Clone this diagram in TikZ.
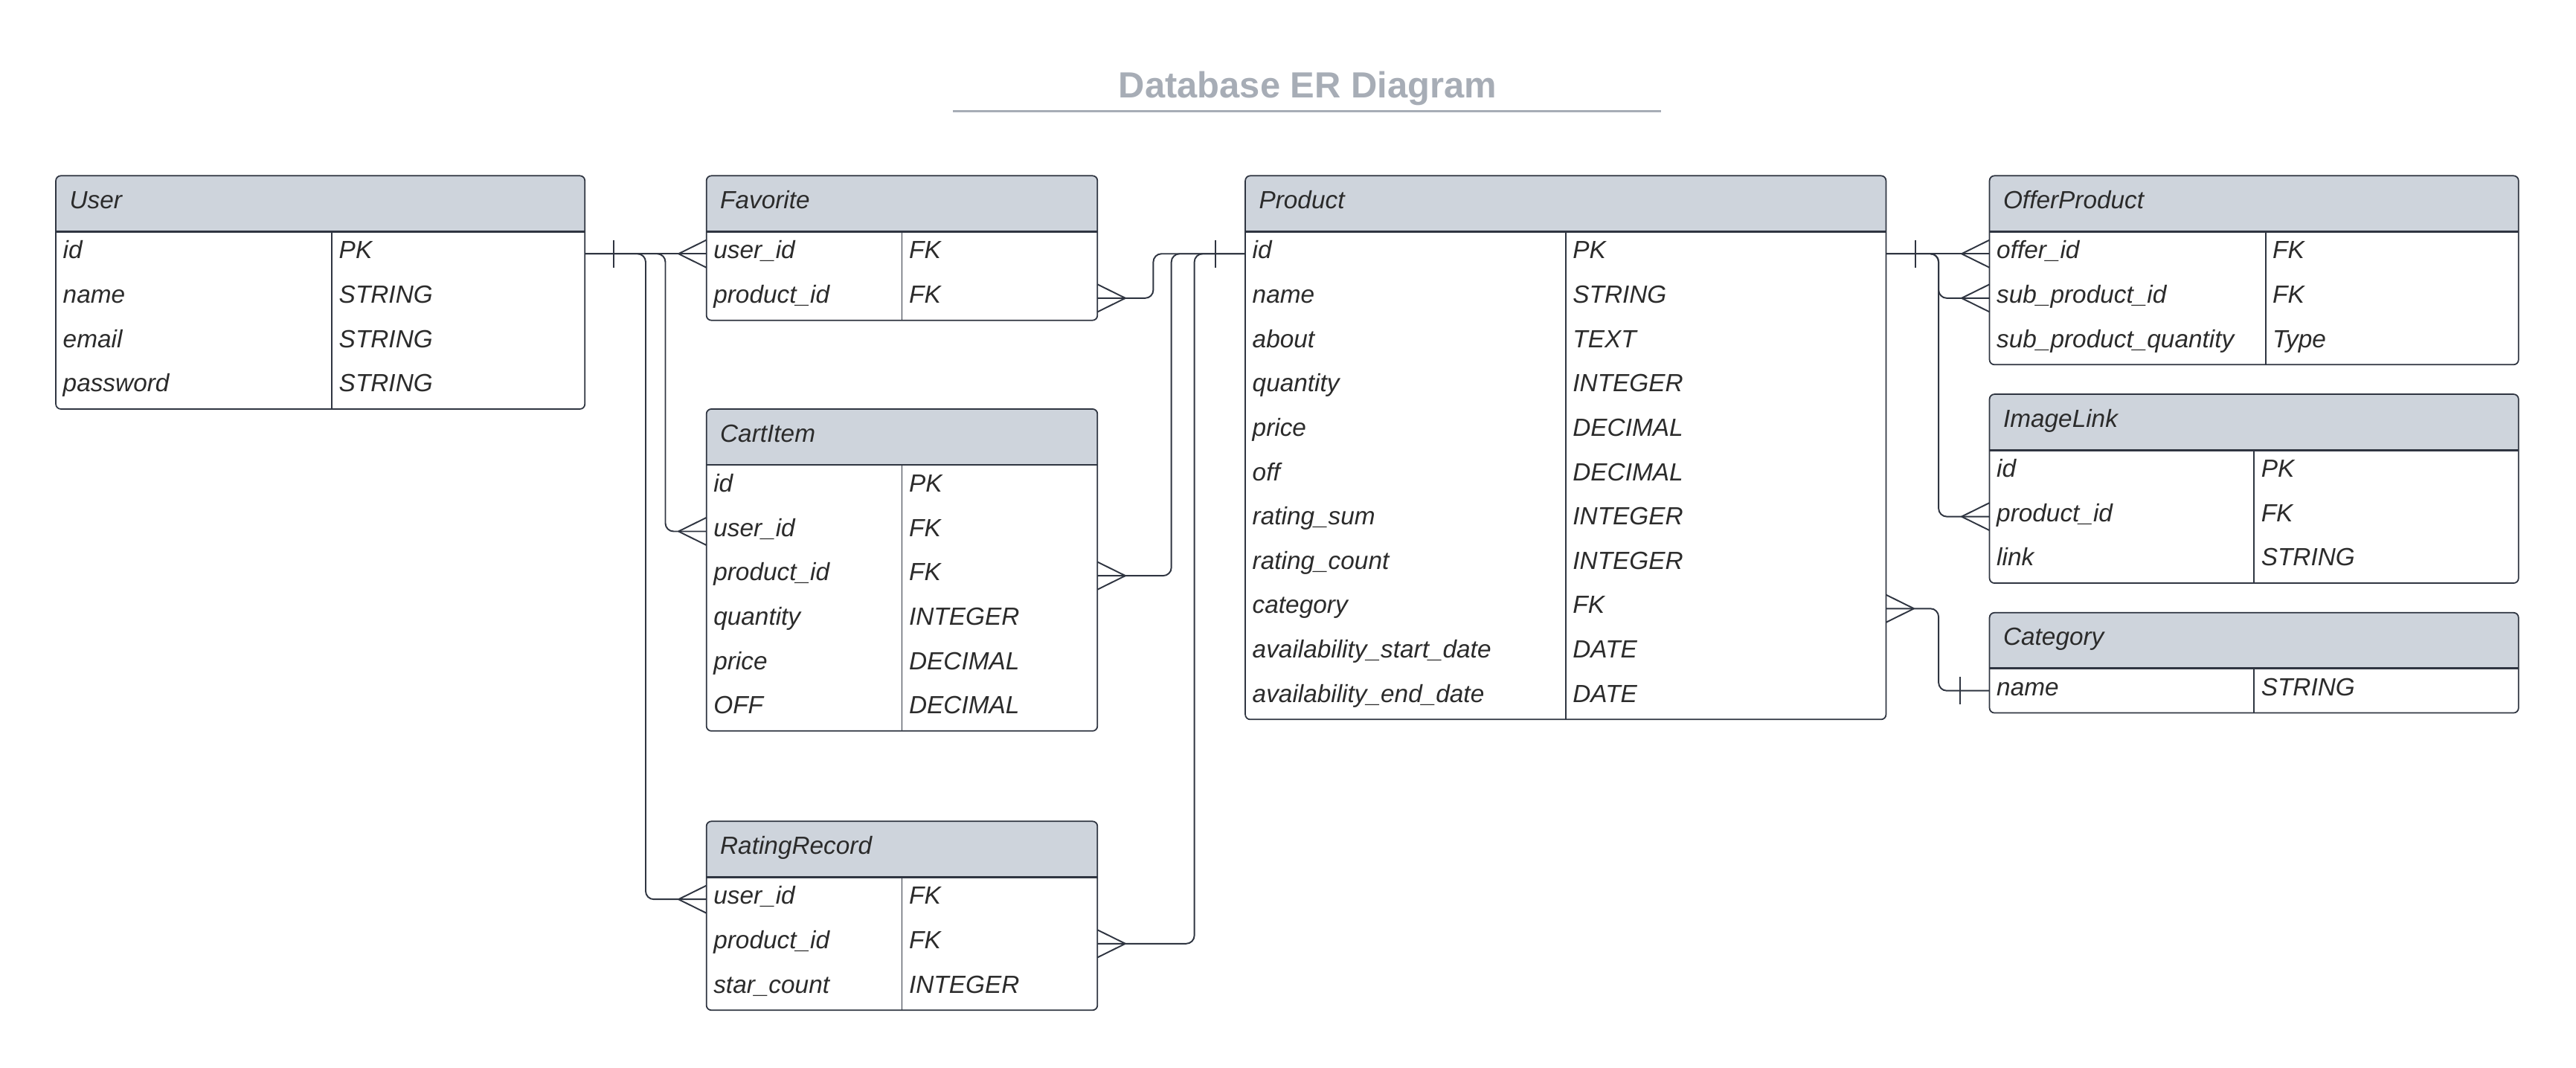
\documentclass[tikz,border=0pt]{standalone}
\usepackage{fontspec}
\setmainfont{Liberation Sans}
\usetikzlibrary{positioning}
\definecolor{headfill}{HTML}{CED4DC}
\definecolor{linegray}{HTML}{2F3541}
\definecolor{textgray}{HTML}{2B2B2B}
\definecolor{titlegray}{HTML}{A7ADB6}
\newcommand{\gridunit}{0.02cm}

\begin{document}
\begin{tikzpicture}[x=0.02cm,y=-0.02cm,
        frame/.style={draw=linegray,line width=0.45pt,rounded corners=0.06cm},
        headline/.style={draw=linegray,line width=0.75pt},
        divider/.style={draw=linegray,line width=0.45pt},
        link/.style={draw=linegray,line width=0.5pt,rounded corners=0.1cm},
        row/.style={anchor=north west,inner sep=0pt,outer sep=0pt,minimum height=27*\gridunit},
        field/.style={anchor=base west,inner sep=0pt,text=textgray,font=\fontsize{8.6}{10}\selectfont\itshape},
        head/.style={field},
        diagtitle/.style={anchor=base,inner sep=0pt,text=titlegray,font=\fontsize{12.6}{15}\selectfont\bfseries},
        crowfoot/.pic={\draw[link,sharp corners] (0,0) -- (17,-8.4) (0,0) -- (17,8.4);},
        onebar/.pic={\draw[link] (0,-8.3) -- (0,8.3);}]
        \useasboundingbox (0,0) rectangle (1568,650);
        % title
        \node[diagtitle] (title) at (796,59.5) {Database ER Diagram};
        \draw[titlegray,line width=0.75pt] (580,67.5) -- (1011,67.5);
        % User
        \fill[headfill,rounded corners=0.06cm] (34,107) rectangle (356,147);
        \fill[white] (34,141) rectangle (356,249);
        \draw[frame] (34,107) rectangle (356,249);
        \draw[headline] (34,141) -- (356,141);
        \draw[divider] (202,141) -- (202,249);
        \node[head] (user) at (42,127) {User};
        \foreach \f/\t [count=\i] in {id/PK,name/STRING,email/STRING,password/STRING}{
            \node[row,minimum width=322*\gridunit] (user-r\i) at (34,{114+27*\i}) {};
            \node[field] at ([shift={(4,16.5)}]user-r\i.north west) {\f};
            \node[field] at ([shift={(172,16.5)}]user-r\i.north west) {\t};
        }
        % Favorite
        \fill[headfill,rounded corners=0.06cm] (430,107) rectangle (668,147);
        \fill[white] (430,141) rectangle (668,195);
        \draw[frame] (430,107) rectangle (668,195);
        \draw[headline] (430,141) -- (668,141);
        \draw[divider] (549,141) -- (549,195);
        \node[head] (fav) at (438,127) {Favorite};
        \foreach \f/\t [count=\i] in {user\_id/FK,product\_id/FK}{
            \node[row,minimum width=238*\gridunit] (fav-r\i) at (430,{114+27*\i}) {};
            \node[field] at ([shift={(4,16.5)}]fav-r\i.north west) {\f};
            \node[field] at ([shift={(123,16.5)}]fav-r\i.north west) {\t};
        }
        % CartItem
        \fill[headfill,rounded corners=0.06cm] (430,249) rectangle (668,289);
        \fill[white] (430,283) rectangle (668,445);
        \draw[frame] (430,249) rectangle (668,445);
        \draw[headline] (430,283) -- (668,283);
        \draw[divider] (549,283) -- (549,445);
        \node[head] (cart) at (438,269) {CartItem};
        \foreach \f/\t [count=\i] in {id/PK,user\_id/FK,product\_id/FK,quantity/INTEGER,price/DECIMAL,OFF/DECIMAL}{
            \node[row,minimum width=238*\gridunit] (cart-r\i) at (430,{256+27*\i}) {};
            \node[field] at ([shift={(4,16.5)}]cart-r\i.north west) {\f};
            \node[field] at ([shift={(123,16.5)}]cart-r\i.north west) {\t};
        }
        % RatingRecord
        \fill[headfill,rounded corners=0.06cm] (430,500) rectangle (668,540);
        \fill[white] (430,534) rectangle (668,615);
        \draw[frame] (430,500) rectangle (668,615);
        \draw[headline] (430,534) -- (668,534);
        \draw[divider] (549,534) -- (549,615);
        \node[head] (rate) at (438,520) {RatingRecord};
        \foreach \f/\t [count=\i] in {user\_id/FK,product\_id/FK,star\_count/INTEGER}{
            \node[row,minimum width=238*\gridunit] (rate-r\i) at (430,{507+27*\i}) {};
            \node[field] at ([shift={(4,16.5)}]rate-r\i.north west) {\f};
            \node[field] at ([shift={(123,16.5)}]rate-r\i.north west) {\t};
        }
        % Product
        \fill[headfill,rounded corners=0.06cm] (758,107) rectangle (1148,147);
        \fill[white] (758,141) rectangle (1148,438);
        \draw[frame] (758,107) rectangle (1148,438);
        \draw[headline] (758,141) -- (1148,141);
        \draw[divider] (953,141) -- (953,438);
        \node[head] (prod) at (766,127) {Product};
        \foreach \f/\t [count=\i] in {id/PK,name/STRING,about/TEXT,quantity/INTEGER,price/DECIMAL,off/DECIMAL,rating\_sum/INTEGER,rating\_count/INTEGER,category/FK,availability\_start\_date/DATE,availability\_end\_date/DATE}{
            \node[row,minimum width=390*\gridunit] (prod-r\i) at (758,{114+27*\i}) {};
            \node[field] at ([shift={(4,16.5)}]prod-r\i.north west) {\f};
            \node[field] at ([shift={(199,16.5)}]prod-r\i.north west) {\t};
        }
        % OfferProduct
        \fill[headfill,rounded corners=0.06cm] (1211,107) rectangle (1533,147);
        \fill[white] (1211,141) rectangle (1533,222);
        \draw[frame] (1211,107) rectangle (1533,222);
        \draw[headline] (1211,141) -- (1533,141);
        \draw[divider] (1379,141) -- (1379,222);
        \node[head] (offer) at (1219,127) {OfferProduct};
        \foreach \f/\t [count=\i] in {offer\_id/FK,sub\_product\_id/FK,sub\_product\_quantity/Type}{
            \node[row,minimum width=322*\gridunit] (offer-r\i) at (1211,{114+27*\i}) {};
            \node[field] at ([shift={(4,16.5)}]offer-r\i.north west) {\f};
            \node[field] at ([shift={(172,16.5)}]offer-r\i.north west) {\t};
        }
        % ImageLink
        \fill[headfill,rounded corners=0.06cm] (1211,240) rectangle (1533,280);
        \fill[white] (1211,274) rectangle (1533,355);
        \draw[frame] (1211,240) rectangle (1533,355);
        \draw[headline] (1211,274) -- (1533,274);
        \draw[divider] (1372,274) -- (1372,355);
        \node[head] (img) at (1219,260) {ImageLink};
        \foreach \f/\t [count=\i] in {id/PK,product\_id/FK,link/STRING}{
            \node[row,minimum width=322*\gridunit] (img-r\i) at (1211,{247+27*\i}) {};
            \node[field] at ([shift={(4,16.5)}]img-r\i.north west) {\f};
            \node[field] at ([shift={(165,16.5)}]img-r\i.north west) {\t};
        }
        % Category
        \fill[headfill,rounded corners=0.06cm] (1211,373) rectangle (1533,413);
        \fill[white] (1211,407) rectangle (1533,434);
        \draw[frame] (1211,373) rectangle (1533,434);
        \draw[headline] (1211,407) -- (1533,407);
        \draw[divider] (1372,407) -- (1372,434);
        \node[head] (cat) at (1219,393) {Category};
        \node[row,minimum width=322*\gridunit] (cat-r1) at (1211,407) {};
        \node[field] at ([shift={(4,16.5)}]cat-r1.north west) {name};
        \node[field] at ([shift={(165,16.5)}]cat-r1.north west) {STRING};
        % User relations
        \draw[link] (user-r1.east) -- (fav-r1.west);
        \draw[link] (user-r1.east) -- ++(49,0) |- (cart-r2.west);
        \draw[link] (user-r1.east) -- ++(37,0) |- (rate-r1.west);
        \pic at ([shift={(17.5,0)}]user-r1.east) {onebar};
        \pic at ([shift={(-17,0)}]fav-r1.west) {crowfoot};
        \pic at ([shift={(-17,0)}]cart-r2.west) {crowfoot};
        \pic at ([shift={(-17,0)}]rate-r1.west) {crowfoot};
        % Product relations, left
        \draw[link] (fav-r2.east) -- ++(34,0) |- (prod-r1.west);
        \draw[link] (cart-r3.east) -- ++(45,0) |- (prod-r1.west);
        \draw[link] (rate-r2.east) -- ++(59,0) |- (prod-r1.west);
        \pic at ([shift={(-18,0)}]prod-r1.west) {onebar};
        \pic[rotate=180] at ([shift={(17,0)}]fav-r2.east) {crowfoot};
        \pic[rotate=180] at ([shift={(17,0)}]cart-r3.east) {crowfoot};
        \pic[rotate=180] at ([shift={(17,0)}]rate-r2.east) {crowfoot};
        % Product relations, right
        \draw[link] (prod-r1.east) -- (offer-r1.west);
        \draw[link] (prod-r1.east) -- ++(32,0) |- (offer-r2.west);
        \draw[link] (prod-r1.east) -- ++(32,0) |- (img-r2.west);
        \draw[link] (prod-r9.east) -- ++(32,0) |- (cat-r1.west);
        \pic at ([shift={(18,0)}]prod-r1.east) {onebar};
        \pic at ([shift={(-17,0)}]offer-r1.west) {crowfoot};
        \pic at ([shift={(-17,0)}]offer-r2.west) {crowfoot};
        \pic at ([shift={(-17,0)}]img-r2.west) {crowfoot};
        \pic[rotate=180] at ([shift={(17,0)}]prod-r9.east) {crowfoot};
        \pic at ([shift={(-18,0)}]cat-r1.west) {onebar};
\end{tikzpicture}
\end{document}
